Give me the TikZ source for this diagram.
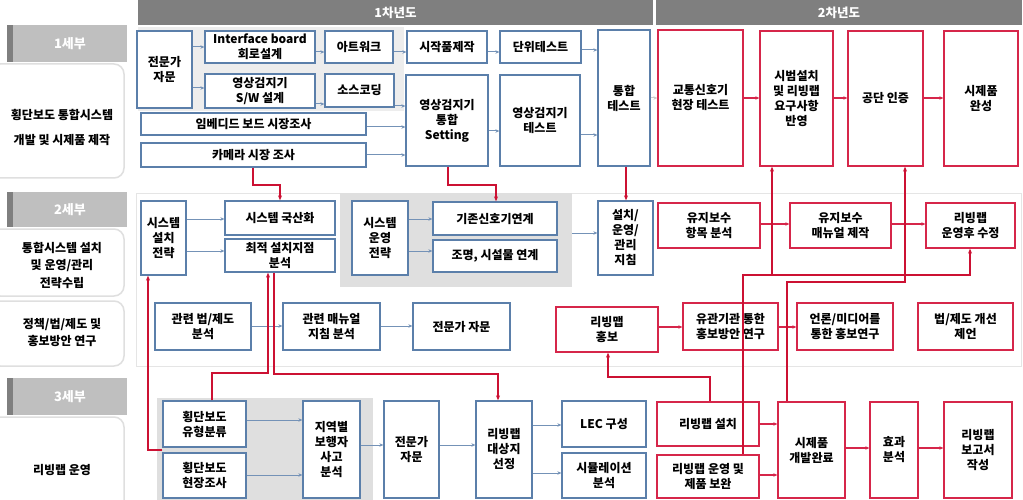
\documentclass[tikz,border=0pt]{standalone}
\usepackage{fontspec}
\setmainfont{Noto Sans CJK KR}
\usetikzlibrary{arrows.meta,calc}
\definecolor{bl}{HTML}{5B7FAA}
\definecolor{rd}{HTML}{D6264A}
\definecolor{rl}{HTML}{CC1133}
\definecolor{hd}{HTML}{7F7F7F}
\definecolor{lb}{HTML}{BFBFBF}
\tikzset{
 bb/.style={draw=bl, line width=1.3pt, fill=white, inner sep=0pt, align=center, font=\bfseries\fontsize{12}{15}\selectfont},
 rb/.style={bb, draw=rd},
 gp/.style={fill=gray!25, draw=none, inner sep=0pt},
 hdr/.style={fill=hd, draw=none, inner sep=0pt, text=white, font=\bfseries\fontsize{12.5}{14}\selectfont},
 lab/.style={fill=lb, draw=none, inner sep=0pt, text=white, font=\bfseries\fontsize{13}{15}\selectfont},
 pan/.style={draw=gray!25, line width=1.5pt, fill=white, rounded corners=10pt},
 lt/.style={align=center, inner sep=0pt, font=\bfseries\fontsize{12}{15}\selectfont},
 ba/.style={draw=bl!85, line width=1pt, -{Stealth[length=4pt,width=3.5pt]}},
 ra/.style={draw=rd, line width=1.3pt, -{Stealth[length=4pt,width=3.5pt]}},
 rlk/.style={draw=rl, line width=1.2pt, -{Stealth[length=5pt,width=4pt]}},
}
\newcommand\bx[7]{\node[#1, minimum width={(#4-#2)*1pt}, minimum height={(#5-#3)*1pt}] (#6) at ({(#2+#4)/2},{(#3+#5)/2}) {#7};}
\begin{document}
\begin{tikzpicture}[x=1pt,y=-1pt]
\useasboundingbox[fill=white] (0,0) rectangle (1023,500);
% headers
\bx{hdr}{138}{0}{653}{25}{y1}{1차년도}
\bx{hdr}{656}{0}{1022}{25}{y2}{2차년도}
% left panels
\draw[pan] (-10,64) rectangle (124,178);
\draw[pan] (-10,229) rectangle (124,296);
\draw[pan] (-10,301) rectangle (124,366);
\draw[pan] (-10,417) rectangle (124,515);
\fill[hd] (7,25) rectangle (13,62);
\bx{lab}{13}{25}{127}{62}{s1}{1세부}
\fill[hd] (7,192) rectangle (13,227);
\bx{lab}{13}{192}{127}{227}{s2}{2세부}
\fill[hd] (7,378) rectangle (13,415);
\bx{lab}{13}{378}{127}{415}{s3}{3세부}
\node[lt, font=\bfseries\fontsize{12}{25}\selectfont] (t1) at (62,127) {횡단보도 통합시스템\\개발 및 시제품 제작};
\node[lt, font=\bfseries\fontsize{12}{17.5}\selectfont] (t2) at (62,265) {통합시스템 설치\\및 운영/관리\\전략수립};
\node[lt, font=\bfseries\fontsize{12}{17}\selectfont] (t3) at (62,333) {정책/법/제도 및\\홍보방안 연구};
\node[lt] (t4) at (62,470) {리빙랩 운영};
% row panels
\fill[gray!14] (138,27) rectangle (404,111);
\draw[gray!20, fill=white] (136,193) rectangle (1021,366);
\bx{gp}{340}{193}{572}{287}{g2}{}
\bx{gp}{157}{398}{373}{500}{g3}{}
% row 1
\bx{bb}{137}{31}{192}{108}{a1}{전문가\\자문}
\bx{bb}{205}{31}{315}{63}{a2}{Interface board\\회로설계}
\bx{bb}{205}{74}{315}{108}{a3}{영상검지기\\S/W 설계}
\bx{bb}{141}{113}{366}{135}{a4}{임베디드 보드 시장조사}
\bx{bb}{141}{143}{366}{167}{a5}{카메라 시장 조사}
\bx{bb}{325}{31}{393}{63}{a6}{아트워크}
\bx{bb}{325}{74}{394}{107}{a7}{소스코딩}
\bx{bb}{407}{31}{487}{63}{a8}{시작품제작}
\bx{bb}{500}{31}{581}{63}{a9}{단위테스트}
\bx{bb}{406}{75}{488}{166}{a10}{영상검지기\\통합\\Setting}
\bx{bb}{500}{75}{580}{166}{a11}{영상검지기\\테스트}
\bx{bb}{598}{30}{650}{166}{a12}{통합\\테스트}
\bx{rb}{658}{30}{743}{166}{b1}{교통신호기\\현장 테스트}
\bx{rb}{760}{31}{833}{166}{b2}{시범설치\\및 리빙랩\\요구사항\\반영}
\bx{rb}{848}{31}{923}{166}{b3}{공단 인증}
\bx{rb}{944}{31}{1018}{166}{b4}{시제품\\완성}
\draw[ba] (a1.east |- 0,47) -- (a2.west |- 0,47);
\draw[ba] (a1.east |- 0,88) -- (a3.west |- 0,88);
\draw[ba] (a2.east |- 0,52) -- (a6.west |- 0,52);
\draw[ba] (a3.east |- 0,104) -- (a7.west |- 0,104);
\draw[ba] (a6.east |- 0,52) -- (a8.west |- 0,52);
\draw[ba] (a8.east |- 0,52) -- (a9.west |- 0,52);
\draw[ba] (a9.east |- 0,50) -- (a12.west |- 0,50);
\draw[ba] (a7.east |- 0,106) -- (a10.west |- 0,106);
\draw[ba] (a4.east |- 0,127) -- (a10.west |- 0,127);
\draw[ba] (a5.east |- 0,155) -- (a10.west |- 0,155);
\draw[ba] (a10.east |- 0,131) -- (a11.west |- 0,131);
\draw[ba] (a11.east |- 0,135) -- (a12.west |- 0,135);
\draw[ba, draw=gray!40] (a12.east |- 0,98) -- (b1.west |- 0,98);
\draw[ra] (b1.east |- 0,98) -- (b2.west |- 0,98);
\draw[ra] (b2.east |- 0,98) -- (b3.west |- 0,98);
\draw[ra] (b3.east |- 0,98) -- (b4.west |- 0,98);
% row 2
\bx{bb}{141}{201}{186}{275}{c1}{시스템\\설치\\전략}
\bx{bb}{225}{201}{335}{235}{c2}{시스템 국산화}
\bx{bb}{225}{239}{335}{272}{c3}{최적 설치지점\\분석}
\bx{bb}{352}{201}{408}{275}{c4}{시스템\\운영\\전략}
\bx{bb}{433}{202}{557}{235}{c5}{기존신호기연계}
\bx{bb}{433}{240}{557}{272}{c6}{조명, 시설물 연계}
\bx{bb}{598}{201}{653}{275}{c7}{설치/\\운영/\\관리\\지침}
\bx{rb}{658}{203}{760}{248}{d1}{유지보수\\항목 분석}
\bx{rb}{790}{203}{891}{248}{d2}{유지보수\\매뉴얼 제작}
\bx{rb}{926}{203}{1015}{248}{d3}{리빙랩\\운영후 수정}
\draw[ba] (c1.east |- 0,219) -- (c2.west |- 0,219);
\draw[ba] (c1.east |- 0,251) -- (c3.west |- 0,251);
\draw[ba] (c4.east |- 0,219) -- (c5.west |- 0,219);
\draw[ba] (c4.east |- 0,251) -- (c6.west |- 0,251);
\draw[ba] (g2.east |- 0,233) -- (c7.west |- 0,233);
\draw[ra] (d1.east |- 0,224) -- (d2.west |- 0,224);
\draw[ra] (d2.east |- 0,224) -- (d3.west |- 0,224);
% row 2b
\bx{bb}{155}{303}{251}{350}{e1}{관련 법/제도\\분석}
\bx{bb}{283}{303}{380}{350}{e2}{관련 매뉴얼\\지침 분석}
\bx{bb}{413}{303}{510}{350}{e3}{전문가 자문}
\bx{rb}{556}{307}{658}{352}{f1}{리빙맵\\홍보}
\bx{rb}{683}{303}{778}{350}{f2}{유관기관 통한\\홍보방안 연구}
\bx{rb}{797}{303}{893}{350}{f3}{언론/미디어를\\통한 홍보연구}
\bx{rb}{918}{303}{1013}{350}{f4}{법/제도 개선\\제언}
\draw[ba] (e1.east |- 0,326) -- (e2.west |- 0,326);
\draw[ba] (e2.east |- 0,326) -- (e3.west |- 0,326);
\draw[ra] (f1.east |- 0,327) -- (f2.west |- 0,327);
\draw[ra] (f2.east |- 0,327) -- (f3.west |- 0,327);
% row 3
\bx{bb}{163}{401}{246}{447}{h1}{횡단보도\\유형분류}
\bx{bb}{163}{453}{246}{498}{h2}{횡단보도\\현장조사}
\bx{bb}{303}{401}{360}{498}{h3}{지역별\\보행자\\사고\\분석}
\bx{bb}{384}{401}{439}{498}{h4}{전문가\\자문}
\bx{bb}{476}{401}{532}{498}{h5}{리빙랩\\대상지\\선정}
\bx{bb}{562}{401}{646}{447}{h6}{LEC 구성}
\bx{bb}{562}{453}{646}{498}{h7}{시뮬레이션\\분석}
\bx{rb}{657}{402}{759}{446}{i1}{리빙랩 설치}
\bx{rb}{657}{455}{759}{498}{i2}{리빙랩 운영 및\\제품 보완}
\bx{rb}{778}{402}{845}{498}{i3}{시제품\\개발완료}
\bx{rb}{870}{402}{918}{498}{i4}{효과\\분석}
\bx{rb}{944}{402}{1012}{498}{i5}{리빙랩\\보고서\\작성}
\draw[ba] (h1.east |- 0,420) -- (h3.west |- 0,420);
\draw[ba] (h2.east |- 0,475) -- (h3.west |- 0,475);
\draw[ba] (h3.east |- 0,445) -- (h4.west |- 0,445);
\draw[ba] (h4.east |- 0,445) -- (h5.west |- 0,445);
\draw[ba] (h5.east |- 0,425) -- (h6.west |- 0,425);
\draw[ba] (h5.east |- 0,473) -- (h7.west |- 0,473);
\draw[ra] (i1.east |- 0,424) -- (i3.west |- 0,424);
\draw[ra] (i2.east |- 0,475) -- (i3.west |- 0,475);
\draw[ra] (i3.east |- 0,448) -- (i4.west |- 0,448);
\draw[ra] (i4.east |- 0,448) -- (i5.west |- 0,448);
% red long connectors
\draw[rlk] (a5.south -| 253,0) -- (253,185) -- (280,185) -- (c2.north -| 280,0);
\draw[rlk] (a10.south -| 448,0) -- (448,185) -- (496,185) -- (c5.north -| 496,0);
\draw[rlk] (a12.south -| 626,0) -- (c7.north -| 626,0);
\draw[rlk] (h1.west |- 0,450) -- (148,450) -- (c1.south -| 148,0);
\draw[rlk] (h1.north -| 212,0) -- (212,373) -- (268,373) -- (c3.south -| 268,0);
\draw[rlk] (c3.south -| 274,0) -- (274,374) -- (498,374) -- (h5.north -| 498,0);
\draw[rlk] (i1.north -| 710,0) -- (710,377) -- (608,377) -- (f1.south -| 608,0);
\coordinate (j1) at (772,275);
\draw[rlk] (i2.north -| 743,0) -- (743,275) -- (970,275) -- (d3.south -| 970,0);
\draw[rlk] (j1) -- (b2.south -| 772,0);
\draw[rlk] (i3.north -| 787,0) -- (787,282) -- (905,282) -- (b3.south -| 905,0);
\end{tikzpicture}
\end{document}
